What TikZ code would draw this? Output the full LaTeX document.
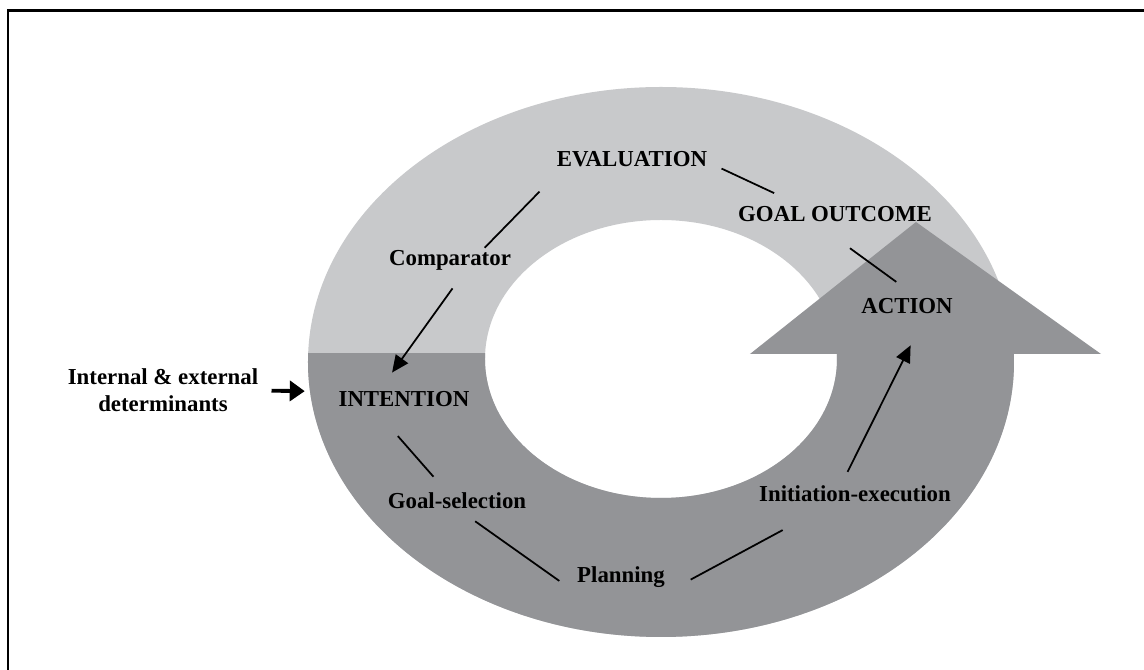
\documentclass[tikz,border=0pt]{standalone}
\usepackage{fontspec}
\setmainfont{Liberation Serif}
\usetikzlibrary{arrows.meta}

\definecolor{ringlight}{RGB}{200,201,203}
\definecolor{ringdark}{RGB}{147,148,151}

\begin{document}
\begin{tikzpicture}[
		stage/.style={font=\bfseries\fontsize{13}{15.4}\selectfont,inner sep=0pt,text height=0.3cm,text depth=0.1cm},
		joinline/.style={line width=1pt},
		flowarrow/.style={line width=1pt,-{Triangle[length=0.34cm,width=0.3cm]}}]
		\useasboundingbox (-13.22,-6.2) rectangle (9.66,7.2);
		% frame
		\draw[line width=1.2pt] (9.9,6.99) -- (-13.06,6.99) -- (-13.06,-6.5);

		% upper half of the ring
		\fill[ringlight,even odd rule] (0,-0.04) ellipse [x radius=7.06,y radius=5.5]
			(0,0.02) ellipse [x radius=3.52,y radius=2.78];
		% lower half, darker, ending in the arrow
		\begin{scope}
			\clip (-7.5,0.12) rectangle (7.5,-6);
			\fill[ringdark,even odd rule] (0,-0.04) ellipse [x radius=7.06,y radius=5.5]
				(0,0.02) ellipse [x radius=3.52,y radius=2.78];
		\end{scope}
		\fill[ringdark] (1.78,0.12) -- (5.1,2.76) -- (8.8,0.12) -- cycle;

		\node[stage] (eval) at (-0.58,3.96) {EVALUATION};
		\node[stage] (goal) at (3.48,2.86) {GOAL OUTCOME};
		\node[stage] (action) at (4.92,1.02) {ACTION};
		\node[stage] (comp) at (-4.22,1.98) {Comparator};
		\node[stage] (intent) at (-5.14,-0.84) {INTENTION};
		\node[stage] (goalsel) at (-4.08,-2.88) {Goal-selection};
		\node[stage] (plan) at (-0.80,-4.36) {Planning};
		\node[stage] (init) at (3.88,-2.74) {Initiation-execution};
		\node[font=\bfseries\fontsize{13}{15.4}\selectfont,align=center,inner sep=0pt] (determ) at (-9.96,-0.61) {Internal \& external\\determinants};

		\draw[joinline,shorten <=0.31cm,shorten >=0.64cm] (eval.east) -- (goal.162);
		\draw[joinline,shorten <=0.08cm,shorten >=0.54cm] (comp.18) -- (eval.-172);
		\draw[flowarrow,shorten <=0.42cm,shorten >=0.47cm] (comp.-35) -- (intent.158);
		\draw[joinline,shorten <=0.71cm,shorten >=0.57cm] (goal.-143) -- (action.40);
		\draw[joinline,shorten <=0.63cm,shorten >=0.45cm] (intent.-159) -- (goalsel.130);
		\draw[joinline,shorten <=0.24cm,shorten >=0.43cm] (goalsel.-51) -- ([yshift=-1mm]plan.south west);
		\draw[joinline,shorten <=0.58cm,shorten >=0.96cm] ([yshift=-1mm]plan.south east) -- (init.-161);
		\draw[flowarrow,shorten <=0.33cm,shorten >=0.58cm] (init.145) -- (action.-32);
		\draw[line width=2.2pt,-{Triangle[length=0.3cm,width=0.4cm]},shorten <=0.26cm,shorten >=0.67cm] (determ.east) -- (intent.north west);
\end{tikzpicture}
\end{document}
